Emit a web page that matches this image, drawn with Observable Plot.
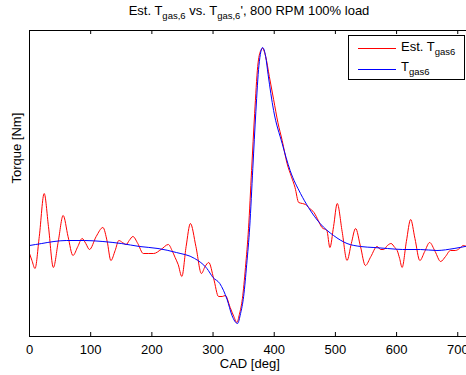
<!DOCTYPE html>
<html><head><meta charset="utf-8">
<script src="https://cdn.jsdelivr.net/npm/d3@7"></script>
<script src="https://cdn.jsdelivr.net/npm/@observablehq/plot@0.6"></script>
<style>
html,body{margin:0;padding:0;overflow:hidden;background:#fff;}
#fig{position:relative;width:466px;height:375px;overflow:hidden;font-family:"Liberation Sans",Arial,Helvetica,sans-serif;color:#000;}
#inner{position:absolute;left:0;top:0;width:471px;height:375px;}
#title{position:absolute;left:0;width:498px;top:4px;text-align:center;font-size:13px;line-height:13px;white-space:nowrap;}
.sb{position:relative;top:4px;font-size:9.5px;}
#legend{position:absolute;left:348px;top:35px;width:117px;height:45px;box-sizing:border-box;border:1px solid #000;background:#fff;}
.sw{position:absolute;left:9px;width:38px;height:0;}
.lt{position:absolute;left:52px;font-size:13px;line-height:13px;white-space:nowrap;}
</style>
</head><body>
<div id="fig">
  <div id="inner"></div>
  <div id="title"></div>
  <div id="legend"></div>
</div>
<script>
// Estimated torque (red)
const redCad = [0,4,9,16,24,31,39,47,55,63,71,79,86,92,98,109,120,127,133,140,146,152,158,163,169,177,186,195,203,215,227,233,238,243,249,256,263,272,281,287,293,301,309,315,320,328,334,339,343,348,353,358,363,368,373,378,381,386,392,399,406,413,421,428,434,440,446,451,458,465,472,478,486,491,497,503,511,519,526,533,541,549,558,568,574,579,585,591,597,601,605,609,616,623,630,638,646,654,663,672,680,688,696,703,709,715,720];
const redTorque = [-7,-14,-22,10,53,20,-21,5,31,10,-9,0,8,3,-3,10,19,5,-14,-4,6,4,2,6,10,3,-7,-7,-7,-3,2,-4,-11,-18,-30,0,23,0,-27,-20,-16,-32,-50,-50,-49,-61,-70,-76,-68,-52,-21,18,76,133,180,196,198,190,170,147,124,106,83,70,59,44,43,42,38,34,26,19,16,-1,20,43,15,-14,3,18,0,-19,-10,0,-3,-3,1,3,-1,-4,-12,-21,5,27,8,-14,-5,4,-5,-15,-10,-4,-4,-2,1,0,0];
// Measured torque (blue)
const blueCad = [0,20,40,60,90,120,150,180,210,240,270,290,300,311,323,331,340,345,350,355,360,365,370,375,381,386,390,399,413,426,443,456,475,497,519,541,563,585,610,639,666,694,720];
const blueTorque = [1,3,5,6,6,5,3,0,-2,-6,-12,-22,-31,-37,-53,-69,-77,-67,-50,-18,20,78,135,181,199,190,172,136,103,76,53,39,23,11,3,0,-1,-2,-3,-3,-4,-2,1];
const xTicks = [0,100,200,300,400,500,600,700];
const titleParts = ["Est. T", "gas,6", " vs. T", "gas,6", "', 800 RPM 100% load"];
const legendLabels = [["Est. T","gas6"],["T","gas6"]];
const legendColors = ["#ff0000","#0000ff"];
const xLabel = "CAD [deg]";
const yLabel = "Torque [Nm]";

const redData = redCad.map((c,i)=>({cad:c, torque:redTorque[i]}));
const blueData = blueCad.map((c,i)=>({cad:c, torque:blueTorque[i]}));

const chart = Plot.plot({
  width: 471, height: 375,
  marginLeft: 29, marginRight: 1.5, marginTop: 30, marginBottom: 39,
  style: {fontFamily: '"Liberation Sans", Arial, Helvetica, sans-serif', fontSize: "13px", background: "white", color: "black", maxWidth: "none", overflow: "visible"},
  x: {domain: [0,720], ticks: xTicks, tickSize: 0, tickPadding: 8, label: null, tickFormat: d => String(d)},
  y: {domain: [-90,216], axis: null},
  marks: [
    Plot.line(redData, {x:"cad", y:"torque", stroke: legendColors[0], strokeWidth: 1, curve: "monotone-x"}),
    Plot.line(blueData, {x:"cad", y:"torque", stroke: legendColors[1], strokeWidth: 1, curve: "monotone-x"}),
    Plot.frame({stroke: "black", strokeWidth: 1}),
    Plot.ruleX(xTicks, {x: d => d, stroke: "black", insetTop: 302}),
    Plot.ruleX(xTicks, {x: d => d, stroke: "black", insetBottom: 302}),
    Plot.text([xLabel], {frameAnchor: "bottom", dy: 27, lineAnchor: "middle", text: d => d, fontSize: 13, fill: "black"}),
    Plot.text([yLabel], {frameAnchor: "left", dx: -13, rotate: -90, lineAnchor: "middle", text: d => d, fontSize: 13, fill: "black"})
  ]
});
document.getElementById("inner").appendChild(chart);

// title with subscripts
const t = document.getElementById("title");
titleParts.forEach((p,i) => {
  const s = document.createElement("span");
  s.textContent = p;
  if (i % 2 === 1) s.className = "sb";
  t.appendChild(s);
});

// legend
const lg = document.getElementById("legend");
legendLabels.forEach((lab,i) => {
  const sw = document.createElement("div");
  sw.className = "sw";
  sw.style.top = (12 + i*21) + "px";
  sw.style.borderTop = "1px solid " + legendColors[i];
  lg.appendChild(sw);
  const tx = document.createElement("div");
  tx.className = "lt";
  tx.style.top = (4 + i*20) + "px";
  const a = document.createElement("span"); a.textContent = lab[0];
  const b = document.createElement("span"); b.textContent = lab[1]; b.className = "sb";
  tx.appendChild(a); tx.appendChild(b);
  lg.appendChild(tx);
});
</script>
</body></html>
